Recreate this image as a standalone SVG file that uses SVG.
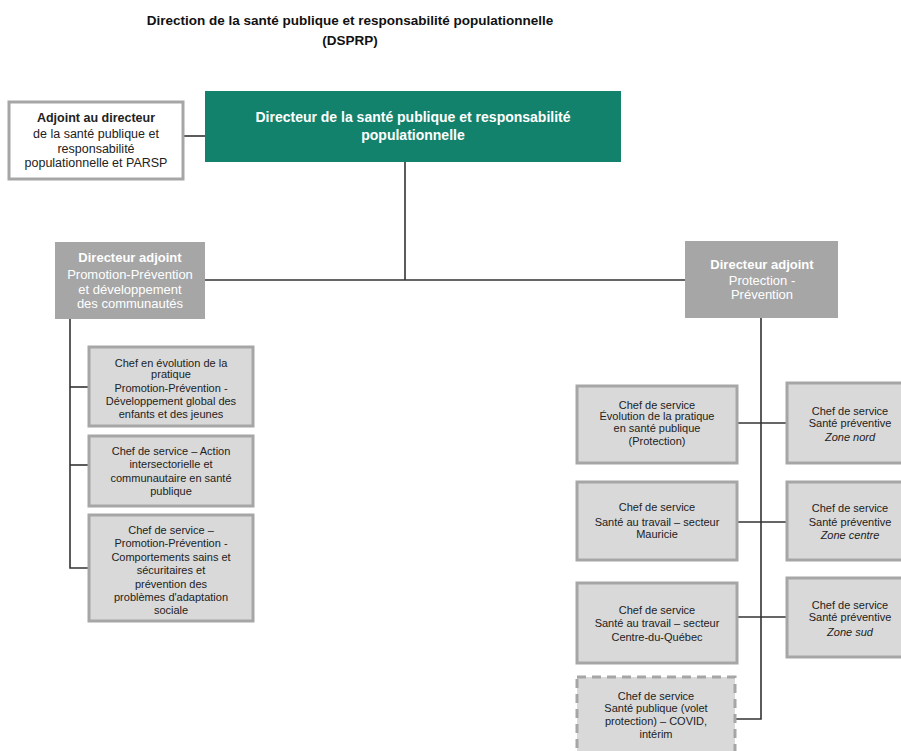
<svg xmlns="http://www.w3.org/2000/svg" width="901" height="751" viewBox="0 0 901 751">
  <style>
    text { font-family: "Liberation Sans", Arial, sans-serif; text-anchor: middle; }
    .title { font-size: 13.5px; font-weight: bold; fill: #111; }
    .dir { font-size: 14px; font-weight: bold; fill: #ffffff; }
    .adj { font-size: 12.5px; fill: #222; }
    .adj .b { font-weight: bold; }
    .da { font-size: 13px; fill: #ffffff; }
    .da .b { font-weight: bold; }
    .ch { font-size: 11px; fill: #222; }
    .it { font-style: italic; }
    .box { fill: #d9d9d9; stroke: #a6a6a6; stroke-width: 3; }
    .box-dash { fill: #d9d9d9; stroke: #a6a6a6; stroke-width: 3; stroke-dasharray: 9 6; }
    .white-box { fill: #ffffff; stroke: #a6a6a6; stroke-width: 3; }
    .green { fill: #13826d; }
    .gray { fill: #a6a6a6; }
    .link { fill: none; stroke: #333; stroke-width: 1.6; }
  </style>

  <rect width="901" height="751" fill="#ffffff"/>

  <!-- Title -->
  <g id="title">
    <text class="title" x="350" y="25">Direction de la santé publique et responsabilité populationnelle</text>
    <text class="title" x="350" y="45">(DSPRP)</text>
  </g>

  <!-- Connectors -->
  <g id="connectors">
    <line class="link" x1="183" y1="136" x2="205" y2="136"/>
    <line class="link" x1="405" y1="162" x2="405" y2="280"/>
    <line class="link" x1="205" y1="280" x2="685" y2="280"/>
    <!-- left branch -->
    <polyline class="link" points="70,319 70,568 89,568"/>
    <line class="link" x1="70" y1="387" x2="89" y2="387"/>
    <line class="link" x1="70" y1="465" x2="89" y2="465"/>
    <!-- right branch -->
    <polyline class="link" points="761,318 761,719 736,719"/>
    <line class="link" x1="737" y1="423" x2="787" y2="423"/>
    <line class="link" x1="737" y1="522" x2="787" y2="522"/>
    <line class="link" x1="737" y1="617" x2="787" y2="617"/>
  </g>

  <!-- Director -->
  <g id="directeur">
    <rect class="green" x="205" y="91" width="416" height="71"/>
    <text class="dir" x="413" y="122">Directeur de la santé publique et responsabilité</text>
    <text class="dir" x="413" y="140">populationnelle</text>
  </g>

  <!-- Deputy to the director -->
  <g id="adjoint">
    <rect class="white-box" x="9" y="102" width="174" height="77"/>
    <text class="adj" x="96"><tspan class="b" x="96" y="122">Adjoint au directeur</tspan><tspan x="96" y="138">de la santé publique et</tspan><tspan x="96" y="153">responsabilité</tspan><tspan x="96" y="167">populationnelle et PARSP</tspan></text>
  </g>

  <!-- Assistant director: promotion / prevention -->
  <g id="da-promotion">
    <rect class="gray" x="55" y="242" width="150" height="77"/>
    <text class="da"><tspan class="b" x="130" y="262">Directeur adjoint</tspan><tspan x="130" y="279">Promotion-Prévention</tspan><tspan x="130" y="294">et développement</tspan><tspan x="130" y="308">des communautés</tspan></text>
  </g>

  <!-- Assistant director: protection / prevention -->
  <g id="da-protection">
    <rect class="gray" x="685" y="241" width="153" height="77"/>
    <text class="da"><tspan class="b" x="762" y="269">Directeur adjoint</tspan><tspan x="762" y="285">Protection -</tspan><tspan x="762" y="299">Prévention</tspan></text>
  </g>

  <!-- Left branch units -->
  <g id="chef-evolution-promotion">
    <rect class="box" x="89" y="347" width="164" height="79"/>
    <text class="ch"><tspan x="171" y="367">Chef en évolution de la</tspan><tspan x="171" y="378">pratique</tspan><tspan x="171" y="392">Promotion-Prévention -</tspan><tspan x="171" y="405">Développement global des</tspan><tspan x="171" y="418">enfants et des jeunes</tspan></text>
  </g>

  <g id="chef-action-intersectorielle">
    <rect class="box" x="89" y="436" width="164" height="70"/>
    <text class="ch"><tspan x="171" y="455">Chef de service – Action</tspan><tspan x="171" y="468">intersectorielle et</tspan><tspan x="171" y="482">communautaire en santé</tspan><tspan x="171" y="495">publique</tspan></text>
  </g>

  <g id="chef-comportements">
    <rect class="box" x="89" y="515" width="164" height="106"/>
    <text class="ch"><tspan x="171" y="534">Chef de service –</tspan><tspan x="171" y="547">Promotion-Prévention -</tspan><tspan x="171" y="561">Comportements sains et</tspan><tspan x="171" y="574">sécuritaires et</tspan><tspan x="171" y="588">prévention des</tspan><tspan x="171" y="601">problèmes d'adaptation</tspan><tspan x="171" y="614">sociale</tspan></text>
  </g>

  <!-- Right branch units, left column -->
  <g id="chef-evolution-protection">
    <rect class="box" x="577" y="386" width="160" height="77"/>
    <text class="ch"><tspan x="657" y="409">Chef de service</tspan><tspan x="657" y="420">Évolution de la pratique</tspan><tspan x="657" y="432">en santé publique</tspan><tspan x="657" y="445">(Protection)</tspan></text>
  </g>

  <g id="chef-travail-mauricie">
    <rect class="box" x="577" y="482" width="160" height="78"/>
    <text class="ch"><tspan x="657" y="511">Chef de service</tspan><tspan x="657" y="526">Santé au travail – secteur</tspan><tspan x="657" y="538">Mauricie</tspan></text>
  </g>

  <g id="chef-travail-cdq">
    <rect class="box" x="577" y="583" width="160" height="80"/>
    <text class="ch"><tspan x="657" y="614">Chef de service</tspan><tspan x="657" y="627">Santé au travail – secteur</tspan><tspan x="657" y="641">Centre-du-Québec</tspan></text>
  </g>

  <g id="chef-covid">
    <rect class="box-dash" x="577" y="677" width="158" height="80"/>
    <text class="ch"><tspan x="656" y="700">Chef de service</tspan><tspan x="656" y="712">Santé publique (volet</tspan><tspan x="656" y="725">protection) – COVID,</tspan><tspan x="656" y="738">intérim</tspan></text>
  </g>

  <!-- Right branch units, right column -->
  <g id="chef-zone-nord">
    <rect class="box" x="787" y="383" width="120" height="80"/>
    <text class="ch"><tspan x="850" y="415">Chef de service</tspan><tspan x="850" y="427">Santé préventive</tspan><tspan class="it" x="850" y="441">Zone nord</tspan></text>
  </g>

  <g id="chef-zone-centre">
    <rect class="box" x="787" y="482" width="120" height="78"/>
    <text class="ch"><tspan x="850" y="512">Chef de service</tspan><tspan x="850" y="526">Santé préventive</tspan><tspan class="it" x="850" y="539">Zone centre</tspan></text>
  </g>

  <g id="chef-zone-sud">
    <rect class="box" x="787" y="578" width="120" height="79"/>
    <text class="ch"><tspan x="850" y="609">Chef de service</tspan><tspan x="850" y="621">Santé préventive</tspan><tspan class="it" x="850" y="636">Zone sud</tspan></text>
  </g>
</svg>
